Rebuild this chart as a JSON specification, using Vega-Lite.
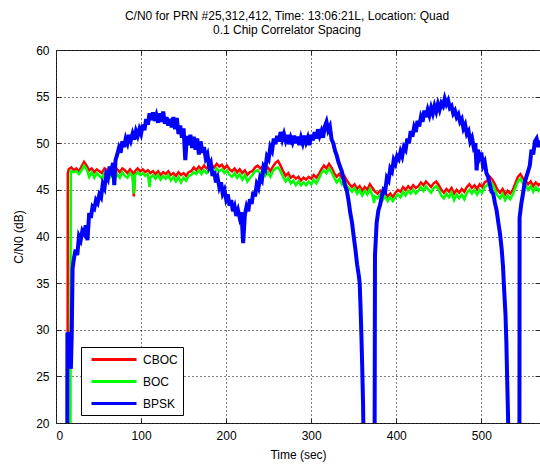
{
  "$schema": "https://vega.github.io/schema/vega-lite/v6.json",
  "width": 484,
  "height": 373,
  "autosize": {"type": "none"},
  "padding": {"left": 56, "top": 50, "right": 0, "bottom": 45},
  "background": "white",
  "title": {
    "text": ["C/N0 for PRN #25,312,412, Time: 13:06:21L, Location: Quad", "0.1 Chip Correlator Spacing"],
    "font": "Liberation Sans", "fontSize": 12, "fontWeight": "normal", "color": "#000000",
    "lineHeight": 14, "offset": 7, "dx": -11
  },
  "config": {
    "view": {"stroke": "#262626", "strokeWidth": 1},
    "font": "Liberation Sans",
    "axis": {
      "labelFont": "Liberation Sans", "labelFontSize": 12, "labelColor": "#000000",
      "titleFont": "Liberation Sans", "titleFontSize": 12, "titleFontWeight": "normal", "titleColor": "#000000"
    },
    "legend": {
      "labelFont": "Liberation Sans", "labelFontSize": 12, "labelColor": "#000000"
    }
  },
  "datasets": {
    "cboc": [
      {"t":13.5,"v":15},{"t":13.7,"v":30},{"t":13.9,"v":46.8},
      {"t":15,"v":47.2},{"t":18,"v":47.4},{"t":21,"v":47.1},{"t":24,"v":47.3},{"t":27,"v":47.0},{"t":30,"v":47.5},{"t":33,"v":48.0},{"t":36,"v":47.6},{"t":39,"v":47.1},{"t":42,"v":47.3},{"t":45,"v":46.9},{"t":48,"v":47.2},{"t":51,"v":47.0},{"t":54,"v":46.8},{"t":57,"v":47.3},{"t":60,"v":47.1},{"t":63,"v":46.9},{"t":66,"v":47.4},{"t":69,"v":47.0},{"t":72,"v":47.2},{"t":75,"v":46.9},{"t":78,"v":47.3},{"t":81,"v":47.1},{"t":84,"v":46.8},{"t":87,"v":47.2},{"t":90,"v":46.9},{"t":91.5,"v":44.3},{"t":93,"v":47.0},{"t":96,"v":47.3},{"t":99,"v":47.0},{"t":102,"v":47.2},{"t":105,"v":46.9},{"t":108,"v":47.1},{"t":111,"v":46.8},{"t":114,"v":47.0},{"t":117,"v":46.7},{"t":120,"v":47.0},{"t":123,"v":46.6},{"t":126,"v":46.9},{"t":129,"v":46.7},{"t":132,"v":47.0},{"t":135,"v":46.6},{"t":138,"v":46.8},{"t":141,"v":46.5},{"t":144,"v":46.9},{"t":147,"v":46.6},{"t":150,"v":46.8},{"t":153,"v":46.5},{"t":156,"v":46.9},{"t":159,"v":47.0},{"t":162,"v":47.4},{"t":165,"v":47.1},{"t":168,"v":47.5},{"t":171,"v":47.2},{"t":174,"v":47.6},{"t":177,"v":47.3},{"t":180,"v":47.5},{"t":183,"v":47.7},{"t":186,"v":47.4},{"t":189,"v":47.8},{"t":192,"v":47.5},{"t":195,"v":47.7},{"t":198,"v":47.3},{"t":201,"v":47.6},{"t":204,"v":47.2},{"t":207,"v":47.0},{"t":210,"v":47.3},{"t":213,"v":46.9},{"t":216,"v":47.2},{"t":219,"v":46.8},{"t":222,"v":47.1},{"t":225,"v":46.6},{"t":228,"v":46.9},{"t":231,"v":47.0},{"t":234,"v":47.4},{"t":237,"v":47.6},{"t":240,"v":47.3},{"t":243,"v":47.5},{"t":246,"v":47.1},{"t":249,"v":47.4},{"t":252,"v":47.0},{"t":255,"v":47.5},{"t":258,"v":47.9},{"t":261,"v":48.1},{"t":264,"v":47.6},{"t":267,"v":47.0},{"t":270,"v":46.5},{"t":273,"v":46.8},{"t":276,"v":46.3},{"t":279,"v":46.5},{"t":282,"v":46.2},{"t":285,"v":46.4},{"t":288,"v":46.0},{"t":291,"v":46.3},{"t":294,"v":46.1},{"t":297,"v":46.4},{"t":300,"v":46.2},{"t":303,"v":46.6},{"t":306,"v":46.3},{"t":309,"v":46.7},{"t":312,"v":47.2},{"t":315,"v":47.6},{"t":318,"v":47.3},{"t":321,"v":47.8},{"t":324,"v":47.4},{"t":327,"v":46.8},{"t":330,"v":46.4},{"t":333,"v":46.7},{"t":336,"v":46.3},{"t":339,"v":46.5},{"t":342,"v":46.0},{"t":345,"v":45.6},{"t":348,"v":45.3},{"t":351,"v":45.6},{"t":354,"v":45.1},{"t":357,"v":45.4},{"t":360,"v":44.9},{"t":363,"v":45.3},{"t":366,"v":45.0},{"t":369,"v":45.6},{"t":372,"v":45.2},{"t":375,"v":44.8},{"t":378,"v":44.6},{"t":381,"v":44.9},{"t":384,"v":44.4},{"t":387,"v":44.7},{"t":390,"v":44.3},{"t":393,"v":44.6},{"t":396,"v":44.2},{"t":399,"v":44.7},{"t":402,"v":45.0},{"t":405,"v":44.8},{"t":408,"v":45.3},{"t":411,"v":45.0},{"t":414,"v":45.4},{"t":417,"v":45.1},{"t":420,"v":45.5},{"t":423,"v":45.2},{"t":426,"v":45.4},{"t":429,"v":45.8},{"t":432,"v":45.5},{"t":435,"v":45.9},{"t":438,"v":45.6},{"t":441,"v":45.3},{"t":444,"v":45.7},{"t":447,"v":45.9},{"t":450,"v":45.5},{"t":453,"v":45.0},{"t":456,"v":44.7},{"t":459,"v":45.1},{"t":462,"v":44.8},{"t":465,"v":45.2},{"t":468,"v":44.6},{"t":471,"v":45.0},{"t":474,"v":44.7},{"t":477,"v":45.1},{"t":480,"v":44.8},{"t":483,"v":45.3},{"t":486,"v":45.6},{"t":489,"v":45.2},{"t":492,"v":45.5},{"t":495,"v":45.1},{"t":498,"v":45.6},{"t":501,"v":45.3},{"t":504,"v":45.8},{"t":507,"v":46.0},{"t":510,"v":46.4},{"t":513,"v":46.1},{"t":516,"v":45.6},{"t":519,"v":45.0},{"t":522,"v":44.7},{"t":525,"v":45.1},{"t":528,"v":44.5},{"t":531,"v":44.9},{"t":534,"v":44.6},{"t":537,"v":45.0},{"t":540,"v":45.7},{"t":543,"v":46.4},{"t":546,"v":46.7},{"t":549,"v":46.2},{"t":552,"v":46.0},{"t":555,"v":45.6},{"t":558,"v":45.9},{"t":561,"v":45.4},{"t":564,"v":45.8},{"t":567,"v":45.5},{"t":569,"v":45.7}
    ],
    "boc": [
      {"t":17.0,"v":15},{"t":17.1,"v":34.5},{"t":17.4,"v":47.0},
      {"t":21,"v":46.9},{"t":24,"v":47.0},{"t":27,"v":46.7},{"t":30,"v":47.1},{"t":33,"v":47.6},{"t":36,"v":47.2},{"t":39,"v":46.4},{"t":42,"v":46.9},{"t":45,"v":46.3},{"t":48,"v":46.8},{"t":51,"v":46.5},{"t":54,"v":46.2},{"t":57,"v":46.8},{"t":60,"v":46.5},{"t":63,"v":46.3},{"t":66,"v":46.9},{"t":69,"v":46.0},{"t":72,"v":46.7},{"t":75,"v":46.3},{"t":78,"v":46.9},{"t":81,"v":46.5},{"t":84,"v":46.3},{"t":87,"v":46.8},{"t":90,"v":46.5},{"t":91.5,"v":44.6},{"t":93,"v":46.6},{"t":96,"v":46.9},{"t":99,"v":46.6},{"t":102,"v":46.8},{"t":105,"v":46.5},{"t":108,"v":46.7},{"t":110,"v":45.3},{"t":111,"v":46.3},{"t":114,"v":46.6},{"t":117,"v":46.2},{"t":120,"v":46.6},{"t":123,"v":46.1},{"t":126,"v":46.5},{"t":129,"v":46.2},{"t":132,"v":46.6},{"t":135,"v":46.0},{"t":138,"v":46.4},{"t":141,"v":45.9},{"t":144,"v":46.4},{"t":147,"v":45.8},{"t":150,"v":46.3},{"t":153,"v":46.0},{"t":156,"v":46.5},{"t":159,"v":46.6},{"t":162,"v":46.9},{"t":165,"v":46.7},{"t":168,"v":47.1},{"t":171,"v":46.7},{"t":174,"v":47.1},{"t":177,"v":46.8},{"t":180,"v":47.1},{"t":183,"v":47.2},{"t":186,"v":46.8},{"t":189,"v":47.3},{"t":192,"v":47.0},{"t":195,"v":47.2},{"t":198,"v":46.8},{"t":201,"v":47.1},{"t":204,"v":46.6},{"t":207,"v":46.4},{"t":210,"v":46.8},{"t":213,"v":46.3},{"t":216,"v":46.7},{"t":219,"v":46.1},{"t":222,"v":46.6},{"t":225,"v":45.9},{"t":228,"v":46.3},{"t":231,"v":46.6},{"t":234,"v":47.0},{"t":237,"v":47.1},{"t":240,"v":46.8},{"t":243,"v":47.0},{"t":246,"v":46.5},{"t":249,"v":46.9},{"t":252,"v":46.4},{"t":255,"v":47.0},{"t":258,"v":47.3},{"t":261,"v":47.4},{"t":264,"v":47.0},{"t":267,"v":46.4},{"t":270,"v":45.9},{"t":273,"v":46.3},{"t":276,"v":45.7},{"t":279,"v":46.0},{"t":282,"v":45.5},{"t":285,"v":45.9},{"t":288,"v":45.5},{"t":291,"v":45.8},{"t":294,"v":45.5},{"t":297,"v":45.9},{"t":300,"v":45.6},{"t":303,"v":46.1},{"t":306,"v":45.7},{"t":309,"v":46.2},{"t":312,"v":46.8},{"t":315,"v":47.1},{"t":318,"v":46.8},{"t":321,"v":47.3},{"t":324,"v":46.9},{"t":327,"v":46.3},{"t":330,"v":45.8},{"t":333,"v":46.2},{"t":336,"v":45.6},{"t":339,"v":46.0},{"t":342,"v":45.4},{"t":345,"v":45.1},{"t":348,"v":44.8},{"t":351,"v":45.2},{"t":354,"v":44.6},{"t":357,"v":45.0},{"t":360,"v":44.4},{"t":363,"v":44.9},{"t":366,"v":44.5},{"t":369,"v":45.1},{"t":372,"v":44.4},{"t":374,"v":43.6},{"t":375,"v":44.3},{"t":378,"v":44.1},{"t":381,"v":44.5},{"t":384,"v":43.9},{"t":387,"v":44.3},{"t":390,"v":43.8},{"t":393,"v":44.2},{"t":396,"v":43.8},{"t":399,"v":44.2},{"t":402,"v":44.5},{"t":405,"v":44.2},{"t":408,"v":44.8},{"t":411,"v":44.4},{"t":414,"v":44.9},{"t":417,"v":44.6},{"t":420,"v":45.0},{"t":423,"v":44.6},{"t":426,"v":44.9},{"t":429,"v":45.3},{"t":432,"v":44.9},{"t":435,"v":45.4},{"t":438,"v":45.0},{"t":441,"v":44.7},{"t":444,"v":45.2},{"t":447,"v":45.4},{"t":450,"v":45.0},{"t":453,"v":44.4},{"t":456,"v":44.1},{"t":459,"v":44.6},{"t":462,"v":44.2},{"t":465,"v":44.7},{"t":468,"v":43.9},{"t":471,"v":44.5},{"t":474,"v":44.1},{"t":477,"v":44.5},{"t":480,"v":44.0},{"t":483,"v":44.7},{"t":486,"v":45.0},{"t":489,"v":44.6},{"t":492,"v":45.0},{"t":495,"v":44.5},{"t":498,"v":45.0},{"t":501,"v":44.7},{"t":504,"v":45.3},{"t":507,"v":45.5},{"t":510,"v":45.9},{"t":513,"v":45.6},{"t":516,"v":45.0},{"t":519,"v":44.4},{"t":522,"v":44.1},{"t":525,"v":44.6},{"t":528,"v":43.9},{"t":531,"v":44.4},{"t":534,"v":44.0},{"t":537,"v":44.5},{"t":540,"v":45.2},{"t":543,"v":45.9},{"t":546,"v":46.2},{"t":549,"v":45.7},{"t":552,"v":45.5},{"t":555,"v":45.0},{"t":558,"v":45.4},{"t":561,"v":44.8},{"t":564,"v":45.3},{"t":567,"v":44.9},{"t":569,"v":45.2}
    ],
    "bpsk": [
      {"t":13.2,"v":15},{"t":13.4,"v":29.7},{"t":15,"v":29.4},{"t":16.5,"v":29.7},{"t":17.5,"v":25.8},{"t":18.5,"v":29.5},{"t":19.5,"v":36.6},{"t":21,"v":37.6},{"t":23,"v":38.6},{"t":25,"v":38.0},{"t":27,"v":40.0},{"t":29,"v":39.6},{"t":31,"v":40.6},{"t":33,"v":40.3},{"t":35,"v":41.2},{"t":37,"v":39.6},{"t":39,"v":42.5},{"t":41,"v":42.0},{"t":43,"v":43.2},{"t":45,"v":43.0},{"t":47,"v":43.9},{"t":49,"v":43.6},{"t":51,"v":44.5},{"t":53,"v":44.2},{"t":55,"v":45.6},{"t":57,"v":45.2},{"t":59,"v":46.6},{"t":61,"v":46.2},{"t":63,"v":47.5},{"t":65,"v":47.0},{"t":67,"v":47.9},{"t":68.5,"v":45.5},{"t":70,"v":48.2},{"t":72,"v":48.8},{"t":74,"v":49.5},{"t":76,"v":49.0},{"t":78,"v":50.2},{"t":80,"v":49.6},{"t":82,"v":50.5},{"t":84,"v":50.0},{"t":86,"v":50.9},{"t":88,"v":50.3},{"t":90,"v":51.0},{"t":92,"v":50.4},{"t":94,"v":51.3},{"t":96,"v":50.8},{"t":98,"v":51.5},{"t":100,"v":51.0},{"t":102,"v":52.0},{"t":104,"v":51.4},{"t":106,"v":52.6},{"t":108,"v":52.0},{"t":110,"v":53.2},{"t":112,"v":52.5},{"t":114,"v":53.3},{"t":116,"v":52.4},{"t":118,"v":53.0},{"t":120,"v":52.2},{"t":122,"v":53.2},{"t":124,"v":52.3},{"t":126,"v":53.4},{"t":128,"v":52.1},{"t":130,"v":52.8},{"t":132,"v":51.9},{"t":134,"v":52.6},{"t":136,"v":51.7},{"t":138,"v":52.8},{"t":140,"v":51.5},{"t":142,"v":52.7},{"t":144,"v":51.0},{"t":146,"v":51.9},{"t":148,"v":50.6},{"t":150,"v":51.6},{"t":152,"v":48.2},{"t":154,"v":50.8},{"t":156,"v":49.8},{"t":158,"v":50.9},{"t":160,"v":49.5},{"t":162,"v":50.7},{"t":164,"v":49.3},{"t":166,"v":50.5},{"t":168,"v":48.8},{"t":170,"v":50.2},{"t":172,"v":49.0},{"t":174,"v":49.6},{"t":176,"v":48.4},{"t":178,"v":48.8},{"t":180,"v":47.5},{"t":182,"v":47.9},{"t":184,"v":46.5},{"t":186,"v":47.0},{"t":188,"v":45.8},{"t":190,"v":46.3},{"t":192,"v":45.3},{"t":194,"v":45.8},{"t":196,"v":44.6},{"t":198,"v":45.0},{"t":200,"v":44.0},{"t":202,"v":44.5},{"t":204,"v":43.3},{"t":206,"v":43.9},{"t":208,"v":42.7},{"t":210,"v":43.2},{"t":212,"v":42.2},{"t":214,"v":42.8},{"t":216,"v":42.0},{"t":218,"v":42.6},{"t":220,"v":39.3},{"t":222,"v":42.3},{"t":224,"v":43.2},{"t":226,"v":42.7},{"t":228,"v":44.0},{"t":230,"v":43.5},{"t":232,"v":44.8},{"t":234,"v":44.3},{"t":236,"v":45.6},{"t":238,"v":45.2},{"t":240,"v":46.3},{"t":242,"v":46.0},{"t":244,"v":47.5},{"t":246,"v":47.2},{"t":248,"v":48.6},{"t":250,"v":48.3},{"t":252,"v":49.6},{"t":254,"v":49.2},{"t":256,"v":50.5},{"t":258,"v":49.9},{"t":260,"v":50.8},{"t":262,"v":50.2},{"t":264,"v":51.2},{"t":266,"v":50.4},{"t":268,"v":51.0},{"t":270,"v":50.3},{"t":272,"v":50.9},{"t":274,"v":49.9},{"t":276,"v":50.6},{"t":278,"v":50.1},{"t":280,"v":50.8},{"t":282,"v":50.0},{"t":284,"v":50.7},{"t":286,"v":49.8},{"t":288,"v":50.6},{"t":290,"v":50.0},{"t":292,"v":50.8},{"t":294,"v":50.1},{"t":296,"v":50.6},{"t":298,"v":49.8},{"t":300,"v":50.9},{"t":302,"v":50.3},{"t":304,"v":51.2},{"t":306,"v":50.5},{"t":308,"v":51.5},{"t":310,"v":50.8},{"t":312,"v":51.3},{"t":314,"v":50.6},{"t":316,"v":51.8},{"t":318,"v":52.3},{"t":320,"v":51.4},{"t":322,"v":51.8},{"t":324,"v":50.4},{"t":326,"v":50.0},{"t":328,"v":49.2},{"t":330,"v":48.7},{"t":332,"v":48.0},{"t":334,"v":47.5},{"t":336,"v":47.0},{"t":338,"v":46.2},{"t":340,"v":45.4},{"t":342,"v":44.9},{"t":344,"v":43.8},{"t":346,"v":42.5},{"t":348,"v":41.5},{"t":350,"v":40.0},{"t":352,"v":38.6},{"t":354,"v":37.0},{"t":356,"v":35.8},{"t":357,"v":35.0},{"t":358,"v":32.5},{"t":359,"v":29.5},{"t":360,"v":26.0},{"t":361,"v":22.0},{"t":362,"v":15},
      {"t":374.5,"v":15},{"t":375,"v":38.0},{"t":377,"v":41.5},{"t":379,"v":42.8},{"t":381,"v":43.4},{"t":383,"v":44.3},{"t":385,"v":45.0},{"t":387,"v":44.8},{"t":389,"v":46.3},{"t":391,"v":46.0},{"t":393,"v":47.3},{"t":395,"v":47.0},{"t":397,"v":48.2},{"t":399,"v":47.8},{"t":401,"v":48.6},{"t":403,"v":48.3},{"t":405,"v":49.1},{"t":407,"v":48.6},{"t":409,"v":49.6},{"t":411,"v":49.3},{"t":413,"v":50.5},{"t":415,"v":50.0},{"t":417,"v":51.3},{"t":419,"v":50.7},{"t":421,"v":51.7},{"t":423,"v":51.2},{"t":425,"v":52.4},{"t":427,"v":51.8},{"t":429,"v":52.8},{"t":431,"v":52.3},{"t":433,"v":53.5},{"t":435,"v":52.8},{"t":437,"v":53.6},{"t":439,"v":53.0},{"t":441,"v":53.8},{"t":443,"v":53.2},{"t":445,"v":54.0},{"t":447,"v":53.4},{"t":449,"v":54.2},{"t":451,"v":53.6},{"t":453,"v":54.3},{"t":455,"v":54.0},{"t":457,"v":54.8},{"t":459,"v":54.2},{"t":461,"v":54.6},{"t":463,"v":53.8},{"t":465,"v":54.0},{"t":467,"v":53.2},{"t":469,"v":53.5},{"t":471,"v":52.8},{"t":473,"v":53.1},{"t":475,"v":52.3},{"t":477,"v":52.6},{"t":479,"v":51.6},{"t":481,"v":52.0},{"t":483,"v":51.0},{"t":485,"v":51.3},{"t":487,"v":50.2},{"t":489,"v":50.6},{"t":491,"v":49.6},{"t":493,"v":50.0},{"t":494.5,"v":47.1},{"t":496,"v":49.3},{"t":498,"v":48.5},{"t":500,"v":49.0},{"t":502,"v":47.6},{"t":504,"v":48.0},{"t":506,"v":46.8},{"t":508,"v":46.4},{"t":510,"v":45.6},{"t":512,"v":44.8},{"t":514,"v":44.6},{"t":516,"v":43.6},{"t":518,"v":42.8},{"t":520,"v":41.5},{"t":522,"v":40.3},{"t":524,"v":38.6},{"t":525.5,"v":36.8},{"t":527,"v":34.0},{"t":528.5,"v":31.5},{"t":529.5,"v":28.5},{"t":530.5,"v":24.3},{"t":531.5,"v":20.5},{"t":532,"v":15},
      {"t":544.8,"v":15},{"t":545,"v":42.0},{"t":547,"v":43.5},{"t":549,"v":44.6},{"t":551,"v":45.8},{"t":553,"v":46.4},{"t":555,"v":47.0},{"t":557,"v":47.6},{"t":559,"v":49.3},{"t":561,"v":48.8},{"t":563,"v":50.2},{"t":565,"v":50.5},{"t":567,"v":49.6},{"t":569,"v":50.3}
    ]
  },
  "layer": [
    {
      "data": {"name": "cboc"},
      "mark": {"type": "line", "strokeWidth": 2.5, "clip": true},
      "encoding": {
        "x": {"field": "t", "type": "quantitative",
              "scale": {"domain": [0, 569], "nice": false, "zero": false},
              "axis": {"orient": "bottom", "values": [0, 100, 200, 300, 400, 500], "domain": false,
                       "grid": true, "gridColor": "#000000", "gridDash": [1, 3], "gridWidth": 1, "gridOpacity": 1,
                       "ticks": true, "tickSize": -5, "tickColor": "#262626", "tickWidth": 1,
                       "labelPadding": 12, "title": "Time (sec)", "titlePadding": 8}},
        "y": {"field": "v", "type": "quantitative",
              "scale": {"domain": [20, 60], "nice": false, "zero": false},
              "axis": {"orient": "left", "values": [20, 25, 30, 35, 40, 45, 50, 55, 60], "domain": false,
                       "grid": true, "gridColor": "#000000", "gridDash": [1, 3], "gridWidth": 1, "gridOpacity": 1,
                       "ticks": true, "tickSize": -5, "tickColor": "#262626", "tickWidth": 1,
                       "labelPadding": 12, "title": "C/N0 (dB)", "titlePadding": 10}},
        "color": {"datum": "CBOC", "type": "nominal",
                  "scale": {"domain": ["CBOC", "BOC", "BPSK"], "range": ["#ff0000", "#00ff00", "#0000ff"]},
                  "legend": {"title": null, "orient": "none", "legendX": 25, "legendY": 297,
                             "symbolType": "M-0.333,0H7.167", "symbolSize": 144, "symbolStrokeWidth": 3,
                             "strokeColor": "#000000", "fillColor": "#ffffff", "padding": 5,
                             "rowPadding": 8, "labelOffset": 42}}
      }
    },
    {
      "data": {"name": "boc"},
      "mark": {"type": "line", "strokeWidth": 2.5, "clip": true},
      "encoding": {
        "x": {"field": "t", "type": "quantitative",
              "axis": {"orient": "top", "values": [0, 100, 200, 300, 400, 500], "domain": false, "grid": false, "labels": false, "title": null,
                       "ticks": true, "tickSize": -5, "tickColor": "#262626", "tickWidth": 1}},
        "y": {"field": "v", "type": "quantitative",
              "axis": {"orient": "right", "values": [20, 25, 30, 35, 40, 45, 50, 55, 60], "domain": false, "grid": false, "labels": false, "title": null,
                       "ticks": true, "tickSize": -5, "tickColor": "#262626", "tickWidth": 1}},
        "color": {"datum": "BOC", "type": "nominal"}
      }
    },
    {
      "data": {"name": "bpsk"},
      "mark": {"type": "line", "strokeWidth": 4, "clip": true},
      "encoding": {
        "x": {"field": "t", "type": "quantitative", "axis": null},
        "y": {"field": "v", "type": "quantitative", "axis": null},
        "color": {"datum": "BPSK", "type": "nominal"}
      }
    }
  ],
  "resolve": {"axis": {"x": "independent", "y": "independent"}}
}
